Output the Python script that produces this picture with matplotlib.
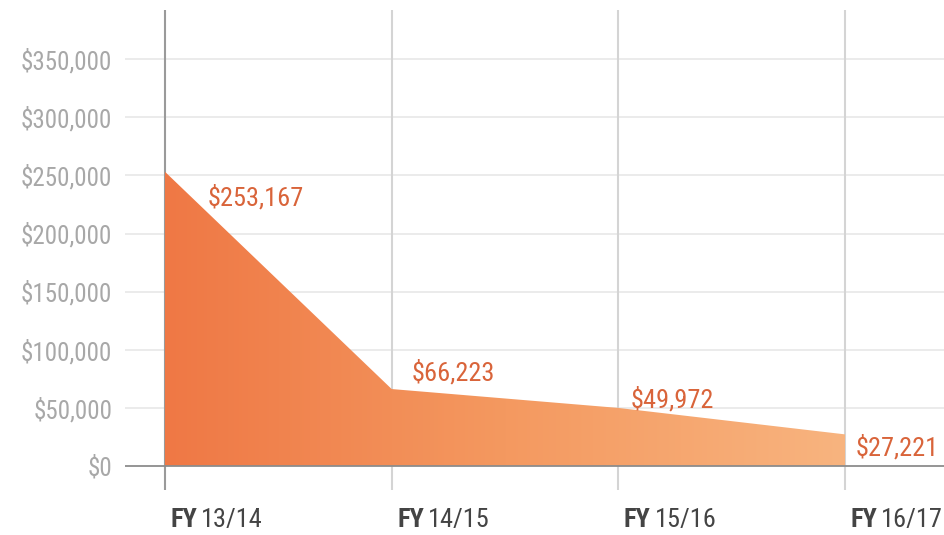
import matplotlib
matplotlib.use("Agg")
import matplotlib.pyplot as plt
import numpy as np
from matplotlib.colors import LinearSegmentedColormap
from matplotlib.patches import Polygon
from matplotlib import font_manager

categories = ["13/14", "14/15", "15/16", "16/17"]
values = [253167, 66223, 49972, 27221]
value_labels = ["$253,167", "$66,223", "$49,972", "$27,221"]
yticks = [0, 50000, 100000, 150000, 200000, 250000, 300000, 350000]
ytick_labels = ["$0", "$50,000", "$100,000", "$150,000", "$200,000", "$250,000", "$300,000", "$350,000"]

names = {f.name for f in font_manager.fontManager.ttflist}
fam = ["DejaVu Sans"]
for c in ["Roboto Condensed", "Liberation Sans Narrow", "DejaVu Sans Condensed"]:
    if c in names:
        fam = [c, "DejaVu Sans"]
        break
stretch = "condensed"

fig = plt.figure(figsize=(9.45, 5.35), dpi=100)
ax = fig.add_axes([125/945, 45/535, 820/945, 480/535])
x = np.arange(len(values))
ax.set_xlim(-0.1765, 3.441)
ax.set_ylim(-20650, 392400)

for t in yticks[1:]:
    ax.axhline(t, color="#e8e8e8", lw=1.2, zorder=0)
ax.axhline(0, color="#8c8c8c", lw=1.3, zorder=3)
for i in x:
    ax.axvline(i, color="#9a9a9a" if i == 0 else "#d4d4d4", lw=1.5, zorder=0.5)

cmap = LinearSegmentedColormap.from_list("g", ["#ef7845", "#f49960", "#f8b47f"])
grad = np.linspace(0, 1, 256).reshape(1, -1)
im = ax.imshow(grad, cmap=cmap, aspect="auto", extent=[x[0], x[-1], 0, max(values)], zorder=1)
verts = [(x[0], 0)] + list(zip(x, values)) + [(x[-1], 0)]
poly = Polygon(verts, closed=True, transform=ax.transData, facecolor="none", edgecolor="none")
ax.add_patch(poly)
im.set_clip_path(poly)

offsets = [(0.19, -22000), (0.09, 14000), (0.055, 7000), (0.045, -11500)]
for i, (v, lab) in enumerate(zip(values, value_labels)):
    dx, dy = offsets[i]
    ax.text(x[i] + dx, v + dy, lab, color="#d9643a", fontsize=19, family=fam,
            fontstretch=stretch, ha="left", va="center", zorder=4)

ax.set_yticks(yticks)
ax.set_yticklabels(ytick_labels, family=fam, fontsize=18, color="#a8a8a8", fontstretch=stretch)
ax.tick_params(axis="y", length=0, pad=9)
ax.set_xticks([])
for s in ax.spines.values():
    s.set_visible(False)

for i, c in enumerate(categories):
    ax.annotate("FY", xy=(x[i], 0), xycoords="data", xytext=(4, -39), textcoords="offset points",
                ha="left", va="center", fontsize=19, fontweight="bold", color="#444444", family=fam,
                fontstretch=stretch, annotation_clip=False)
    ax.annotate(c, xy=(x[i], 0), xycoords="data", xytext=(26, -39), textcoords="offset points",
                ha="left", va="center", fontsize=19, color="#444444", family=fam,
                fontstretch=stretch, annotation_clip=False)

fig.savefig("out.png", dpi=100)
